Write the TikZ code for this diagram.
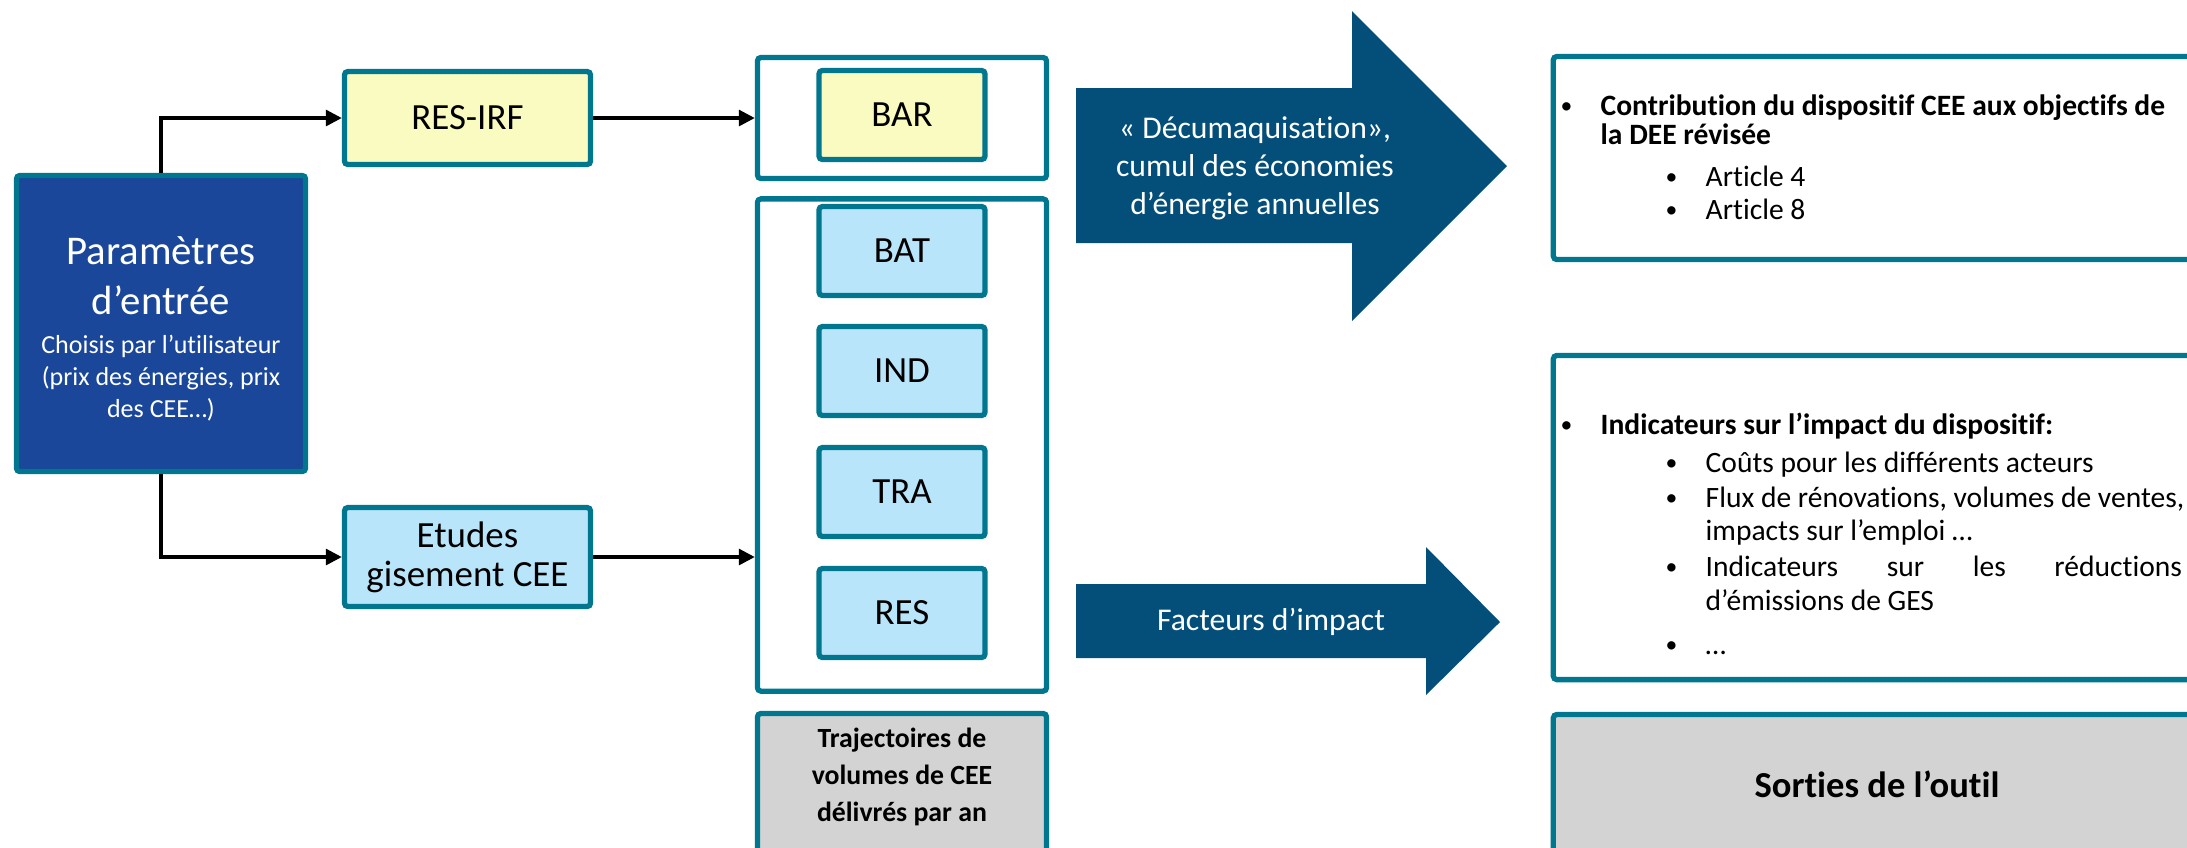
\documentclass[tikz,border=0pt]{standalone}
\usepackage{fontspec}
\setmainfont{Carlito}[Ligatures=NoCommon]
\usepackage{xcolor}
\usepackage{graphicx}
\usepackage{tikz}
\usetikzlibrary{arrows.meta, positioning, calc}
\definecolor{paramblue}{RGB}{26, 71, 153}
\definecolor{edgeteal}{RGB}{0, 118, 143}
\definecolor{modelyellow}{RGB}{250, 251, 192}
\definecolor{sectorblue}{RGB}{185, 229, 251}
\definecolor{flowblue}{RGB}{4, 79, 122}
\definecolor{outgray}{RGB}{211, 211, 211}
\newcommand{\smallbul}{\raisebox{0.05em}{\scalebox{0.8}{•}}}

\tikzset{
    framebox/.style={draw=edgeteal, line width=1.5pt, rounded corners=1pt, inner sep=0pt},
    parambox/.style={framebox, fill=paramblue, minimum width=2.89cm, minimum height=2.96cm},
    modelbox/.style={framebox, minimum width=2.46cm, align=center, font=\fontsize{10.5}{11}\selectfont},
    sectorbox/.style={framebox, fill=sectorblue, minimum width=1.66cm, minimum height=0.89cm, font=\fontsize{10.5}{12.6}\selectfont},
    link/.style={line width=0.9pt, -{Triangle[length=4.5pt, width=4.5pt]}},
    flowtext/.style={text=white, align=center, inner sep=0pt, font=\fontsize{9}{10.8}\selectfont},
    outtext/.style={anchor=base west, inner sep=0pt, font=\fontsize{8.4}{10}\selectfont},
    outbold/.style={outtext, font=\fontsize{8.4}{10}\selectfont\bfseries}
}

\begin{document}
\begin{tikzpicture}[x=0.01cm, y=-0.01cm]
    \useasboundingbox (0,0) rectangle (2187,847);
    \clip (0,0) rectangle (2187,847);

    % entrees
    \node[parambox] (param) at (161,323.5) {};
    \node[text=white, align=center, inner sep=0pt, font=\fontsize{11.6}{14.2}\selectfont] (paramtitle) at (161,276) {Paramètres\\d’entrée};
    \node[text=white, align=center, inner sep=0pt, font=\fontsize{7.4}{9.1}\selectfont] (paramsub) at (161,378) {Choisis par l’utilisateur\\(prix des énergies, prix\\des CEE…)};

    \node[modelbox, fill=modelyellow, minimum height=0.93cm] (resirf) at (467.5,118) {RES-IRF};
    \node[modelbox, fill=sectorblue, minimum height=0.99cm] (etudes) at (467.5,557) {Etudes\\gisement CEE};

    % secteurs
    \node[framebox, fill=white, minimum width=2.89cm, minimum height=1.21cm] (barframe) at (902,118) {};
    \node[sectorbox, fill=modelyellow] (bar) at (902,115) {BAR};
    \node[framebox, minimum width=2.89cm, minimum height=4.92cm] (sectors) at (902,445) {};
    \foreach \sect/\y in {bat/251, ind/371, tra/492, res/613}
        \node[sectorbox] (\sect) at (902,\y) {\MakeUppercase{\sect}};
    \node[framebox, fill=outgray, minimum width=2.89cm, minimum height=1.51cm] (traj) at (902,789) {};
    \node[align=center, inner sep=0pt, font=\fontsize{7.9}{10.5}\selectfont\bfseries] (trajtext) at (902,777) {Trajectoires de\\volumes de CEE\\délivrés par an};

    \draw[link] (param.north) |- (resirf.west);
    \draw[link] (param.south) |- (etudes.west);
    \draw[link] (resirf.east) -- (barframe.west);
    \draw[link] (etudes.east) -- (etudes.east -| sectors.west);

    % fleches
    \fill[flowblue] (1076,88) -- (1352,88) -- (1352,11) -- (1507,166) -- (1352,321) -- (1352,243) -- (1076,243) -- cycle;
    \node[flowtext] (cumul) at (1255,168) {« Décumaquisation»,\\cumul des économies\\d’énergie annuelles};
    \fill[flowblue] (1076,584) -- (1426,584) -- (1426,547) -- (1500,622) -- (1426,695) -- (1426,658) -- (1076,658) -- cycle;
    \node[flowtext] (facteurs) at (1271,622) {Facteurs d’impact};

    % sorties
    \node[framebox, fill=white, minimum width=6.47cm, minimum height=2.03cm] (dee) at (1877,158) {};
    \node[outtext] (deebul) at (1560,115) {\smallbul};
    \node[outbold] (deehead) at (1600,115) {Contribution du dispositif CEE aux objectifs de};
    \node[outbold] (deehead2) at (1600,144) {la DEE révisée};
    \node[outtext] (art4bul) at (1665,186) {\smallbul};
    \node[outtext] (art4) at (1705,186) {Article 4};
    \node[outtext] (art8bul) at (1665,219) {\smallbul};
    \node[outtext] (art8) at (1705,219) {Article 8};

    \node[framebox, minimum width=6.47cm, minimum height=3.24cm] (indic) at (1877,517.5) {};
    \node[outtext] (indicbul) at (1560,434) {\smallbul};
    \node[outbold] (indichead) at (1600,434) {Indicateurs sur l’impact du dispositif:};
    \node[outtext] (coutsbul) at (1665,472) {\smallbul};
    \node[outtext] (couts) at (1705,472) {Coûts pour les différents acteurs};
    \node[outtext] (fluxbul) at (1665,507) {\smallbul};
    \node[outtext] (flux) at (1705,507) {Flux de rénovations, volumes de ventes,};
    \node[outtext] (flux2) at (1705,540) {impacts sur l’emploi …};
    \node[outtext] (gesbul) at (1665,576) {\smallbul};
    \node[outtext] (ges) at (1705,576) {\makebox[4.76cm][s]{Indicateurs sur les réductions}};
    \node[outtext] (ges2) at (1705,610) {d’émissions de GES};
    \node[outtext] (etcbul) at (1665,654) {\smallbul};
    \node[outtext] (etc) at (1705,654) {…};

    \node[framebox, fill=outgray, minimum width=6.47cm, minimum height=1.39cm, font=\fontsize{10.4}{12.5}\selectfont\bfseries] (sorties) at (1877,784) {Sorties de l’outil};
\end{tikzpicture}
\end{document}
